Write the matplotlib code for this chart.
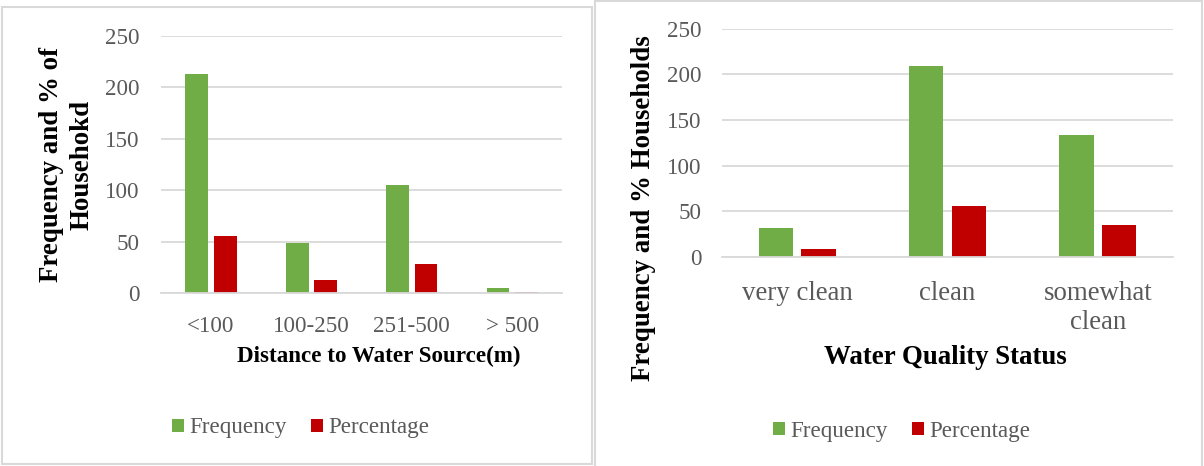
import matplotlib
matplotlib.use("Agg")
import matplotlib.pyplot as plt
import numpy as np
from matplotlib.patches import Rectangle, Patch

# ---- data -------------------------------------------------------------
distance_labels = ["<100", "100-250", "251-500", "> 500"]
distance_freq = [213, 49, 105, 5]
distance_pct = [55.5, 13, 28, 1.3]

quality_labels = ["very clean", "clean", "somewhat\nclean"]
quality_freq = [32, 209, 134]
quality_pct = [8.5, 55.5, 35.5]

y_ticks = [0, 50, 100, 150, 200, 250]
series_names = ["Frequency", "Percentage"]

# ---- style ------------------------------------------------------------
GREEN = "#70AD47"
RED = "#C00000"
GRID = "#D9D9D9"
TICK = "#595959"
FONT = "Liberation Serif"
FS = 16.6        # tick numbers, left category labels, legends
FS_BIG = 19.4    # right category labels and the larger titles

plt.rcParams["font.family"] = FONT

W, H = 1204, 466
fig = plt.figure(figsize=(W / 100, H / 100), dpi=100)


def fx(px):
    return px / W


def fy(py):
    return (H - py) / H


# panel frames
fig.patches.append(Rectangle((fx(1.7), fy(464)), fx(590), 457 / H,
                             transform=fig.transFigure, fill=False,
                             edgecolor=GRID, linewidth=1.5, zorder=0))
fig.patches.append(Rectangle((fx(594.5), fy(475)), fx(607), 474 / H,
                             transform=fig.transFigure, fill=False,
                             edgecolor=GRID, linewidth=1.5, zorder=0))


def bar_panel(rect_px, labels, freq, pct, xpad, xsize, spacing):
    x0, y0, x1, y1 = rect_px
    ax = fig.add_axes([fx(x0), fy(y1), fx(x1 - x0), (y1 - y0) / H])
    x = np.arange(len(labels))
    width = 0.227
    off = 0.142
    ax.bar(x - off, freq, width, color=GREEN, zorder=3)
    ax.bar(x + off, pct, width, color=RED, zorder=3)
    ax.set_xlim(-0.5, len(labels) - 0.5)
    ax.set_ylim(0, 250)
    ax.set_yticks(y_ticks)
    ax.set_xticks(x)
    ax.set_xticklabels(labels, linespacing=spacing, fontsize=xsize)
    ax.yaxis.grid(True, color=GRID, linewidth=1.3, zorder=0)
    ax.set_axisbelow(True)
    for s in ("top", "right", "left"):
        ax.spines[s].set_visible(False)
    ax.spines["bottom"].set_color(GRID)
    ax.spines["bottom"].set_linewidth(1.3)
    ax.spines["bottom"].set_zorder(4)
    ax.tick_params(axis="both", length=0, labelcolor=TICK)
    ax.tick_params(axis="y", pad=15, labelsize=FS)
    ax.tick_params(axis="x", pad=xpad)
    ax.set_facecolor("none")
    return ax


ax1 = bar_panel((160.8, 36, 562.4, 293.3), distance_labels,
                distance_freq, distance_pct, 16, FS, 1.1)
ax2 = bar_panel((722, 28.7, 1173, 257), quality_labels,
                quality_freq, quality_pct, 17.5, FS_BIG, 1.17)

# axis titles
fig.text(fx(379), fy(361.7), "Distance to Water Source(m)", ha="center",
         va="baseline", fontsize=FS, fontweight="bold", color="black")
fig.text(fx(945), fy(364.3), "Water Quality Status", ha="center",
         va="baseline", fontsize=FS_BIG, fontweight="bold", color="black")
fig.text(fx(67), fy(165), "Frequency and % of\nHousehokd", rotation=90,
         ha="center", va="center", multialignment="center",
         linespacing=1.3, fontsize=FS_BIG, fontweight="bold", color="black")
fig.text(fx(644), fy(208.5), "Frequency and % Households", rotation=90,
         ha="center", va="center", fontsize=FS_BIG, fontweight="bold",
         color="black")

# legends
handles = [Patch(facecolor=GREEN), Patch(facecolor=RED)]
for cx, cy in ((301, 428), (902, 431)):
    leg = fig.legend(handles, series_names, loc="center",
                     bbox_to_anchor=(fx(cx), fy(cy)),
                     bbox_transform=fig.transFigure, ncol=2, frameon=False,
                     fontsize=FS, handlelength=0.5, handleheight=0.5,
                     handletextpad=0.25, columnspacing=1.05, borderpad=0,
                     borderaxespad=0)
    for t in leg.get_texts():
        t.set_color(TICK)

fig.savefig("out.png", dpi=100, facecolor="white")
